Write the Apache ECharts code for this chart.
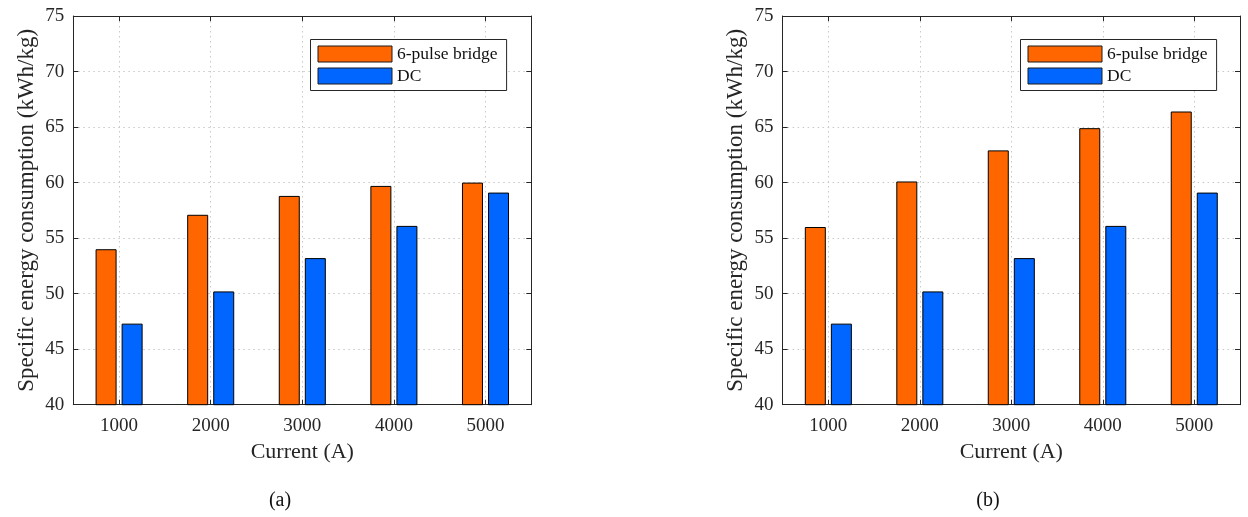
<!DOCTYPE html>
<html>
<head>
<meta charset="utf-8">
<title>Specific energy consumption vs current</title>
<script src="https://cdn.jsdelivr.net/npm/echarts@6/dist/echarts.min.js"></script>
<style>
  html, body { margin: 0; padding: 0; background: #fff; }
  #chart { width: 1248px; height: 517px; }
</style>
</head>
<body>
<div id="chart"></div>
<script>
// Current levels (A) on the category axis
const currents = ['1000', '2000', '3000', '4000', '5000'];

// Panel (a): specific energy consumption, kWh/kg
const bridgeA = [54.0, 57.1, 58.8, 59.7, 60.0];
const dcA = [47.3, 50.2, 53.2, 56.1, 59.1];

// Panel (b): specific energy consumption, kWh/kg
const bridgeB = [56.0, 60.1, 62.9, 64.9, 66.4];
const dcB = [47.3, 50.2, 53.2, 56.1, 59.1];

// Value axis range and step
const yMin = 40;
const yMax = 75;
const yStep = 5;

const seriesNames = ['6-pulse bridge', 'DC'];
const captions = ['(a)', '(b)'];

const FONT = '"Liberation Serif", "Times New Roman", Times, serif';
const INK = '#262626';
const GRID_LINE = { color: '#c8c8c8', width: 1, type: [1.5, 3.5] };
const COLORS = ['#ff6600', '#0066ff'];

const panels = [
  { left: 73.3, width: 458, bridge: bridgeA, dc: dcA, legendLeft: 310.5, captionX: 280 },
  { left: 782.6, width: 457.4, bridge: bridgeB, dc: dcB, legendLeft: 1020.5, captionX: 988 }
];

const grid = [], xAxis = [], yAxis = [], series = [], legend = [], graphic = [];

panels.forEach(function (p, i) {
  grid.push({ left: p.left, width: p.width, top: 16, height: 388.7, containLabel: false });

  // bottom category axis with labels and title
  xAxis.push({
    type: 'category', gridIndex: i, position: 'bottom', data: currents, boundaryGap: true,
    axisLine: { show: true, onZero: false, lineStyle: { color: INK, width: 1 } },
    axisTick: { show: true, inside: true, length: 5, alignWithLabel: true, lineStyle: { color: INK } },
    axisLabel: { fontFamily: FONT, fontSize: 19, color: INK, margin: 12 },
    splitLine: { show: true, alignWithLabel: true, lineStyle: GRID_LINE },
    name: 'Current (A)', nameLocation: 'middle', nameGap: 37,
    nameTextStyle: { fontFamily: FONT, fontSize: 22, color: INK }
  });
  // top edge of the box, ticks only
  xAxis.push({
    type: 'category', gridIndex: i, position: 'top', data: currents, boundaryGap: true,
    axisLine: { show: true, onZero: false, lineStyle: { color: INK, width: 1 } },
    axisTick: { show: true, inside: true, length: 5, alignWithLabel: true, lineStyle: { color: INK } },
    axisLabel: { show: false },
    splitLine: { show: false }
  });

  // left value axis with labels and title
  yAxis.push({
    type: 'value', gridIndex: i, position: 'left', min: yMin, max: yMax, interval: yStep,
    axisLine: { show: true, lineStyle: { color: INK, width: 1 } },
    axisTick: { show: true, inside: true, length: 5, lineStyle: { color: INK } },
    axisLabel: { fontFamily: FONT, fontSize: 19, color: INK, margin: 9 },
    splitLine: { show: true, lineStyle: GRID_LINE },
    name: 'Specific energy consumption (kWh/kg)', nameLocation: 'middle', nameGap: 35, nameRotate: 90,
    nameTextStyle: { fontFamily: FONT, fontSize: 23, color: INK }
  });
  // right edge of the box, ticks only
  yAxis.push({
    type: 'value', gridIndex: i, position: 'right', min: yMin, max: yMax, interval: yStep,
    axisLine: { show: true, lineStyle: { color: INK, width: 1 } },
    axisTick: { show: true, inside: true, length: 5, lineStyle: { color: INK } },
    axisLabel: { show: false },
    splitLine: { show: false }
  });

  [p.bridge, p.dc].forEach(function (values, k) {
    series.push({
      type: 'bar', name: seriesNames[k], data: values,
      xAxisIndex: i * 2, yAxisIndex: i * 2,
      barWidth: 21, barGap: '24%',
      itemStyle: { color: COLORS[k], borderColor: '#000', borderWidth: 1 },
      emphasis: { disabled: true }
    });
  });

  legend.push({
    data: seriesNames, orient: 'vertical', left: p.legendLeft, top: 39.5,
    icon: 'rect', itemWidth: 74, itemHeight: 16, itemGap: 4,
    padding: [5.5, 9, 5.5, 7],
    backgroundColor: '#fff', borderColor: INK, borderWidth: 1,
    itemStyle: { borderWidth: 1, borderColor: '#1a1a1a' },
    textStyle: { fontFamily: FONT, fontSize: 17.5, color: '#111' },
    selectedMode: false
  });

  graphic.push({
    type: 'text', x: p.captionX, y: 501, silent: true,
    style: { text: captions[i], align: 'center', verticalAlign: 'middle',
             font: '20px ' + FONT, fill: '#111' }
  });
});

const chart = echarts.init(document.getElementById('chart'), null, { renderer: 'canvas' });
chart.setOption({
  animation: false,
  backgroundColor: '#fff',
  grid: grid,
  xAxis: xAxis,
  yAxis: yAxis,
  legend: legend,
  series: series,
  graphic: graphic
});
</script>
</body>
</html>
